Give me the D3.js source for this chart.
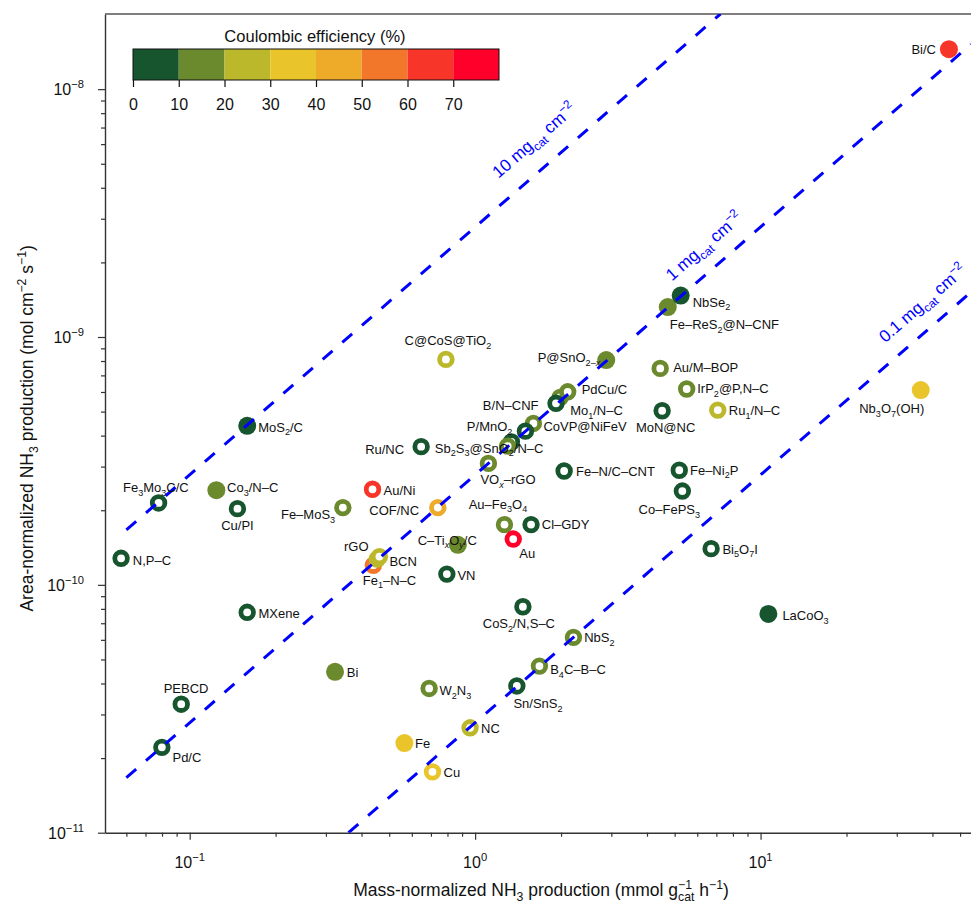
<!DOCTYPE html>
<html>
<head>
<meta charset="utf-8">
<script src="https://cdn.jsdelivr.net/npm/d3@7"></script>
<style>
  body { margin: 0; background: #fff; }
  svg text { font-family: "Liberation Sans", Arial, Helvetica, sans-serif; fill: #111; }
</style>
</head>
<body>
<svg id="chart" width="971" height="906"></svg>
<script>
// ---- Data -------------------------------------------------------------
// Catalyst labels. Markup: _{..} subscript, ^{..} superscript, ~..~ italic.
const catalysts = [
  "Bi/C", "Fe–ReS_{2}@N–CNF", "NbSe_{2}", "P@SnO_{2–~x~}", "C@CoS@TiO_{2}",
  "Au/M–BOP", "Mo_{1}/N–C", "PdCu/C", "B/N–CNF", "IrP_{2}@P,N–C",
  "Ru_{1}/N–C", "MoN@NC", "Nb_{3}O_{7}(OH)", "MoS_{2}/C", "CoVP@NiFeV",
  "P/MnO_{2}", "Ru/NC", "", "Sb_{2}S_{3}@SnO_{2}/N–C", "VO_{~x~}–rGO",
  "Fe–N/C–CNT", "Fe–Ni_{2}P", "Co–FePS_{3}", "Fe_{3}Mo_{3}C/C", "Co_{3}/N–C",
  "Cu/PI", "Au/Ni", "Fe–MoS_{3}", "COF/NC", "Au–Fe_{3}O_{4}",
  "Cl–GDY", "Au", "C–Ti_{~x~}O_{~y~}/C", "N,P–C", "Fe_{1}–N–C",
  "rGO", "BCN", "VN", "Bi_{5}O_{7}I", "LaCoO_{3}",
  "MXene", "CoS_{2}/N,S–C", "NbS_{2}", "Bi", "B_{4}C–B–C",
  "W_{2}N_{3}", "Sn/SnS_{2}", "PEBCD", "NC", "Pd/C",
  "Fe", "Cu"
];
// Mass-normalized NH3 production (mmol g_cat^-1 h^-1)
const massRates = [
  45.7, 4.73, 5.25, 2.88, 0.790,
  4.45, 1.985, 2.11, 1.92, 5.51,
  7.08, 4.52, 36.4, 0.159, 1.60,
  1.50, 0.647, 1.34, 1.30, 1.113,
  2.05, 5.19, 5.32, 0.0778, 0.124,
  0.147, 0.437, 0.344, 0.740, 1.267,
  1.57, 1.36, 0.870, 0.0575, 0.440,
  0.454, 0.462, 0.796, 6.71, 10.65,
  0.159, 1.47, 2.21, 0.323, 1.68,
  0.690, 1.40, 0.0934, 0.960, 0.0799,
  0.565, 0.709
];
// Area-normalized NH3 production (mol cm^-2 s^-1)
const areaRates = [
  1.45e-8, 1.32e-9, 1.47e-9, 8.07e-10, 8.12e-10,
  7.47e-10, 5.70e-10, 6.01e-10, 5.40e-10, 6.17e-10,
  5.07e-10, 5.04e-10, 6.11e-10, 4.38e-10, 4.48e-10,
  4.17e-10, 3.61e-10, 3.77e-10, 3.63e-10, 3.09e-10,
  2.88e-10, 2.90e-10, 2.39e-10, 2.14e-10, 2.41e-10,
  2.03e-10, 2.43e-10, 2.05e-10, 2.05e-10, 1.75e-10,
  1.75e-10, 1.53e-10, 1.45e-10, 1.28e-10, 1.20e-10,
  1.27e-10, 1.30e-10, 1.105e-10, 1.40e-10, 7.63e-11,
  7.75e-11, 8.16e-11, 6.14e-11, 4.46e-11, 4.70e-11,
  3.82e-11, 3.91e-11, 3.30e-11, 2.65e-11, 2.21e-11,
  2.30e-11, 1.76e-11
];
// Coulombic efficiency (%)
const efficiencies = [
  65, 15, 5, 15, 25,
  15, 15, 15, 5, 15,
  25, 5, 35, 5, 15,
  5, 5, 5, 15, 15,
  5, 5, 5, 5, 15,
  5, 65, 15, 45, 15,
  5, 75, 15, 5, 55,
  25, 25, 5, 5, 5,
  5, 5, 15, 15, 15,
  15, 5, 5, 25, 5,
  35, 35
];
// Marker style: filled disc or open ring
const markerKinds = [
  "filled", "filled", "filled", "filled", "ring",
  "ring", "ring", "ring", "ring", "ring",
  "ring", "ring", "filled", "filled", "ring",
  "ring", "ring", "ring", "ring", "ring",
  "ring", "ring", "ring", "ring", "filled",
  "ring", "ring", "ring", "ring", "ring",
  "ring", "ring", "filled", "ring", "ring",
  "ring", "ring", "ring", "ring", "filled",
  "ring", "ring", "ring", "filled", "ring",
  "ring", "ring", "ring", "ring", "ring",
  "filled", "ring"
];

const efficiencyBreaks = [0, 10, 20, 30, 40, 50, 60, 70, 80];
const binColors = ["#17552e", "#6b8a2e", "#bbb82c", "#e9c52b", "#eeab2a", "#f2772b", "#f73528", "#fe0029"];

// Catalyst loading reference lines (mg_cat cm^-2)
const loadings = [10, 1, 0.1];
const loadingLabels = ["10 mg_{cat} cm^{−2}", "1 mg_{cat} cm^{−2}", "0.1 mg_{cat} cm^{−2}"];

const xTickValues = [0.1, 1, 10];
const xTickLabels = ["10^{−1}", "10^{0}", "10^{1}"];
const yTickValues = [1e-11, 1e-10, 1e-9, 1e-8];
const yTickLabels = ["10^{−11}", "10^{−10}", "10^{−9}", "10^{−8}"];

// ---- Layout -----------------------------------------------------------
// label placement per catalyst: [anchor, dx, dy] relative to the marker centre
const labelLayout = [
  ["end", -13, 5], ["start", 2, 22], ["start", 12, 11], ["end", -6, 2], ["middle", 2, -14],
  ["start", 13, 4], ["start", 10, 17.5], ["start", 14, 2], ["end", -17.5, 6.5], ["start", 10.5, 4],
  ["start", 11, 5], ["middle", 3.5, 21.6], ["middle", -29, 23], ["start", 11, 6], ["start", 10, 8],
  ["end", -13, 0], ["end", -17, 7], ["start", 0, 0], ["middle", -18.5, 6.7], ["start", -8, 20.5],
  ["start", 12, 5], ["start", 10.7, 4.3], ["middle", -13, 23], ["start", -35.6, -11], ["start", 10.7, 2],
  ["middle", 0, 21], ["start", 11, 5.7], ["end", -7.7, 11.6], ["end", -18.7, 7.3], ["middle", -6.5, -16],
  ["start", 10.7, 4], ["start", 6, 19], ["end", 19, 0], ["start", 11.7, 6.7], ["start", -10.6, 19.3],
  ["end", -8.7, -8.3], ["start", 10, 9.3], ["start", 10.6, 6], ["start", 11.3, 5], ["start", 14, 6],
  ["start", 11.3, 5.4], ["middle", -4, 21.6], ["start", 10.7, 5], ["start", 11.7, 5], ["start", 10.7, 8.3],
  ["start", 10.3, 6.7], ["start", -3.4, 22.3], ["middle", 4.8, -11], ["start", 11, 5.6], ["start", 10.6, 14.4],
  ["start", 10.7, 5], ["start", 11, 5]
];
// loading-line label placement: mass value on the line, distance above the line
const loadingLabelAt = [[1.35, 21], [5.35, 17], [30, 17.7]];

const plot = { left: 105, right: 971, top: 14, bottom: 832.7 };

const svg = d3.select("#chart");

const x = d3.scaleLog().domain([0.0505, 54.6]).range([plot.left, plot.right]);
const y = d3.scaleLog().domain([1e-11, 2.01e-8]).range([plot.bottom, plot.top]);
const color = d3.scaleThreshold().domain(efficiencyBreaks.slice(1, -1)).range(binColors);

// area rate (mol cm^-2 s^-1) = mass rate (mmol g^-1 h^-1) * loading (mg cm^-2) * 1e-6 / 3600
const perLoading = 1e-6 / 3600;

// Rich text: sub/superscripts and italics as tspans
function rich(textSel, str, size) {
  const segs = [];
  let buf = "", mode = 0, it = false, back = false;
  const flush = () => {
    if (buf) { segs.push({ t: buf, mode, it, back }); back = false; buf = ""; }
  };
  for (let i = 0; i < str.length; i++) {
    const c = str[i];
    if ((c === "_" || c === "^") && str[i + 1] === "{") { flush(); mode = c === "_" ? -1 : 1; i++; }
    else if (c === "}") { flush(); mode = 0; }
    else if (c === "~") { flush(); it = !it; }
    else if (c === "|") { flush(); back = true; }
    else buf += c;
  }
  flush();
  let cur = 0, prev = null;
  segs.forEach(s => {
    const fs = s.mode ? size * 0.7 : size;
    const off = s.mode === -1 ? size * 0.28 : s.mode === 1 ? -size * 0.42 : 0;
    const ts = textSel.append("tspan").attr("font-size", fs).text(s.t);
    if (off - cur !== 0) ts.attr("dy", off - cur);
    if (s.it) ts.attr("font-style", "italic");
    if (s.back && prev) ts.attr("dx", -prev.node().getComputedTextLength());
    cur = off; prev = ts;
  });
  return textSel;
}

// ---- Clip -------------------------------------------------------------
svg.append("defs").append("clipPath").attr("id", "plotClip")
  .append("rect").attr("x", plot.left).attr("y", plot.top)
  .attr("width", plot.right - plot.left).attr("height", plot.bottom - plot.top);

// ---- Axes -------------------------------------------------------------
function minorTicks(lo, hi) {
  const out = [];
  for (let e = Math.floor(Math.log10(lo)); e <= Math.ceil(Math.log10(hi)); e++) {
    for (let m = 2; m <= 9; m++) {
      const v = m * Math.pow(10, e);
      if (v >= lo && v <= hi) out.push(v);
    }
  }
  return out;
}

const axisColor = "#333";
const gx = svg.append("g").attr("transform", `translate(0,${plot.bottom})`);
gx.call(d3.axisBottom(x).tickValues(xTickValues).tickSize(7).tickSizeOuter(0).tickFormat(""));
gx.append("g").call(d3.axisBottom(x).tickValues(minorTicks(0.0505, 54.6)).tickSize(4).tickSizeOuter(0).tickFormat(""))
  .select(".domain").remove();

const gy = svg.append("g").attr("transform", `translate(${plot.left},0)`);
gy.call(d3.axisLeft(y).tickValues(yTickValues).tickSize(7).tickSizeOuter(0).tickFormat(""));
gy.append("g").call(d3.axisLeft(y).tickValues(minorTicks(1e-11, 1.99e-8)).tickSize(4).tickSizeOuter(0).tickFormat(""))
  .select(".domain").remove();

svg.selectAll(".domain").attr("stroke", axisColor).attr("stroke-width", 1.4);
svg.selectAll(".tick line").attr("stroke", axisColor).attr("stroke-width", 1.2);

svg.append("line").attr("x1", plot.left).attr("x2", plot.right)
  .attr("y1", plot.top).attr("y2", plot.top)
  .attr("stroke", "#555").attr("stroke-width", 1.4);

xTickValues.forEach((v, i) => {
  rich(svg.append("text").attr("x", x(v)).attr("y", 868).attr("text-anchor", "middle"), xTickLabels[i], 16);
});
yTickValues.forEach((v, i) => {
  rich(svg.append("text").attr("x", 84).attr("y", y(v) + 6).attr("text-anchor", "end"), yTickLabels[i], 16);
});

rich(svg.append("text").attr("x", 541).attr("y", 896).attr("text-anchor", "middle"),
  "Mass-normalized NH_{3} production (mmol g^{−1}|_{cat} h^{−1})", 17.5);
rich(svg.append("text").attr("transform", `translate(33,${(plot.top + plot.bottom) / 2 + 5}) rotate(-90)`)
  .attr("text-anchor", "middle"),
  "Area-normalized NH_{3} production (mol cm^{−2} s^{−1})", 17.5);

// ---- Markers ----------------------------------------------------------
const points = catalysts.map((name, i) => ({
  name, mass: massRates[i], area: areaRates[i], ce: efficiencies[i], kind: markerKinds[i], layout: labelLayout[i]
}));

const gPts = svg.append("g").attr("clip-path", "url(#plotClip)");
gPts.selectAll("circle").data(points).join("circle")
  .attr("cx", d => x(d.mass)).attr("cy", d => y(d.area))
  .attr("r", d => d.kind === "filled" ? 9 : 6.3)
  .attr("fill", d => d.kind === "filled" ? color(d.ce) : "#fff")
  .attr("stroke", d => d.kind === "filled" ? "none" : color(d.ce))
  .attr("stroke-width", d => d.kind === "filled" ? 0 : 4.8);

// ---- Loading lines ----------------------------------------------------
const gLines = svg.append("g").attr("clip-path", "url(#plotClip)");
const lineStart = 0.06;
loadings.forEach((L, i) => {
  const k = L * perLoading;
  const x0 = Math.max(lineStart, y.domain()[0] / k);
  const x1 = Math.min(x.domain()[1], y.domain()[1] / k);
  gLines.append("line")
    .attr("x1", x(x0)).attr("y1", y(k * x0))
    .attr("x2", x(x1)).attr("y2", y(k * x1))
    .attr("stroke", "#0000ff").attr("stroke-width", 3)
    .attr("stroke-dasharray", "13,13");

  const angle = Math.atan2(y(k * 10) - y(k * 1), x(10) - x(1)) * 180 / Math.PI;
  const [m, off] = loadingLabelAt[i];
  const t = svg.append("text")
    .attr("transform", `translate(${x(m)},${y(k * m)}) rotate(${angle})`)
    .attr("y", -off).attr("text-anchor", "start")
    .style("fill", "#0000ff");
  rich(t, loadingLabels[i], 17);
});

// ---- Labels -----------------------------------------------------------
points.forEach(d => {
  if (!d.name) return;
  const [anchor, dx, dy] = d.layout;
  rich(svg.append("text")
    .attr("x", x(d.mass) + dx).attr("y", y(d.area) + dy)
    .attr("text-anchor", anchor), d.name, 13);
});

// ---- Colour bar -------------------------------------------------------
const cb = { x0: 133, x1: 499, y0: 49, y1: 80 };
const cbX = d3.scaleLinear().domain([0, 80]).range([cb.x0, cb.x1]);
const gCb = svg.append("g");
gCb.selectAll("rect").data(binColors).join("rect")
  .attr("x", (c, i) => cbX(efficiencyBreaks[i]))
  .attr("width", (c, i) => cbX(efficiencyBreaks[i + 1]) - cbX(efficiencyBreaks[i]))
  .attr("y", cb.y0).attr("height", cb.y1 - cb.y0)
  .attr("fill", c => c);
gCb.append("rect").attr("x", cb.x0).attr("y", cb.y0)
  .attr("width", cb.x1 - cb.x0).attr("height", cb.y1 - cb.y0)
  .attr("fill", "none").attr("stroke", "#111").attr("stroke-width", 1);
const gCbAxis = gCb.append("g").attr("transform", `translate(0,${cb.y1})`)
  .call(d3.axisBottom(cbX).tickValues(efficiencyBreaks.slice(0, -1)).tickSize(7).tickPadding(12).tickSizeOuter(0));
gCbAxis.select(".domain").remove();
gCbAxis.selectAll(".tick line").attr("stroke", "#111").attr("stroke-width", 1.2);
gCbAxis.selectAll(".tick text").attr("font-size", 16).attr("font-family", "Liberation Sans, Arial, sans-serif").attr("fill", "#111");
svg.append("text").attr("x", (cb.x0 + cb.x1) / 2 - 1).attr("y", 42).attr("text-anchor", "middle")
  .attr("font-size", 16.5).text("Coulombic efficiency (%)");
</script>
</body>
</html>
